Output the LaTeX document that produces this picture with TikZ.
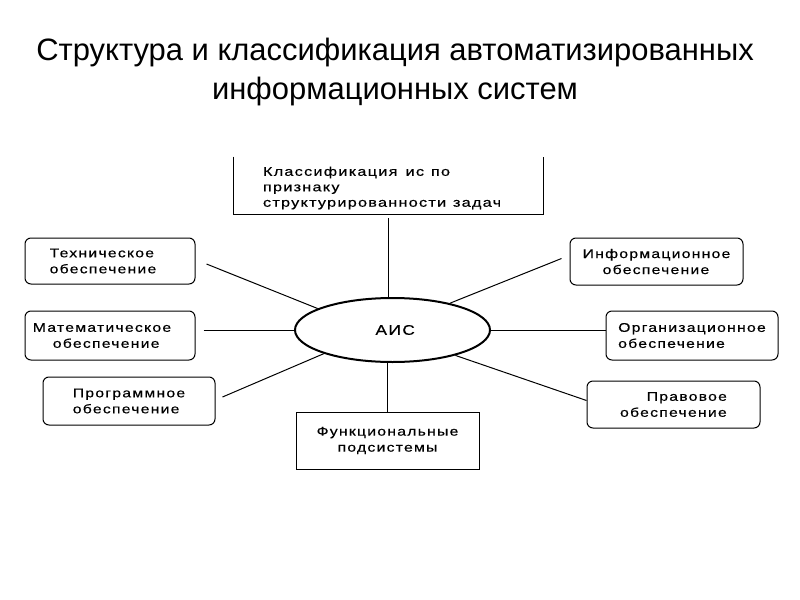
\documentclass[tikz,border=0pt]{standalone}
\usepackage{fontspec}
\setmainfont{Liberation Sans}
\newfontfamily\boxfont[FakeStretch=1.24,LetterSpace=10,FakeBold=0.4,WordSpace=1.5]{Liberation Sans}
\newfontfamily\clsfont[FakeStretch=1.28,LetterSpace=10,FakeBold=0.4,WordSpace=1.6]{Liberation Sans}
\usetikzlibrary{shapes.geometric,calc}
\begin{document}
\begin{tikzpicture}[x=0.75pt,y=-0.75pt,
  lbl/.style={font=\boxfont\fontsize{9.5}{12}\selectfont, align=left, inner sep=0pt},
  rbox/.style={draw, rounded corners=4.5pt, line width=0.75pt, lbl},
  sbox/.style={draw, line width=0.75pt, lbl},
  conn/.style={line width=0.75pt}]
\useasboundingbox (0,0) rectangle (800,600);
\fill[white] (0,0) rectangle (800,600);

\node[font=\fontsize{23.2}{28.5}\selectfont, align=center, inner sep=0pt] (title) at (395,72)
  {Структура и классификация автоматизированных\\информационных систем};

\node[lbl, font=\clsfont\fontsize{9.5}{11.6}\selectfont, inner xsep=21.75pt, text width=188.25pt,
  minimum height=42.75pt] (cls) at (388.5,188)
  {Классификация\kern3pt\ ис\kern2pt\ по\\признаку\\структурированности\kern2pt\ задач};
\draw[line width=0.75pt] ($(cls.north west)+(0,-2.5)$) -- ($(cls.south west)+(0,-2.5)$)
  -- ($(cls.south east)+(0,-2.5)$) -- ($(cls.north east)+(0,-2.5)$);

\node[ellipse, draw, line width=1.5pt, minimum width=146.25pt, minimum height=48pt, inner sep=0pt,
  font=\boxfont\fontsize{10.5}{12}\selectfont] (ais) at (392.5,330) {\hspace*{4pt}АИС};

\node[rbox, minimum width=127.5pt, minimum height=34.5pt] (tech) at (110,261) {Техническое\\обеспечение\hspace*{10.5pt}};
\node[rbox, minimum width=127.5pt, minimum height=36.75pt] (math) at (110,335.5) {Математическое\hspace*{12pt}\\\hspace*{15pt}обеспечение};
\node[rbox, minimum width=129pt, minimum height=36pt] (prog) at (129,401) {Программное\\обеспечение};
\node[rbox, minimum width=129.75pt, minimum height=35.25pt] (info) at (656.5,261.5) {Информационное\\\hspace*{15pt}обеспечение};
\node[rbox, minimum width=129pt, minimum height=36.75pt] (org) at (692,335.5) {Организационное\\обеспечение};
\node[rbox, minimum width=129.75pt, minimum height=35.25pt] (prav) at (673.5,404.5) {\hspace*{20pt}Правовое\\обеспечение};
\node[sbox, align=center, minimum width=137.25pt, minimum height=42.75pt] (func) at (387.5,440.5) {Функциональные\\подсистемы};

\draw[conn] ($(cls.south)+(0,1.5)$) -- (cls.south |- ais.north);
\draw[conn] ($(tech.east)+(11,3)$) -- (ais.164);
\draw[conn] ($(math.east |- ais.west)+(8,0)$) -- (ais.west);
\draw[conn] ($(prog.east)+(7,-4)$) -- (ais.199.5);
\draw[conn] ($(info.west)+(-8,-3)$) -- (ais.25);
\draw[conn] (ais.east) -- (org.west |- ais.east);
\draw[conn] (ais.-22) -- ($(prav.west)+(0,-4)$);
\draw[conn] (func.north |- ais.south) -- (func.north);
\end{tikzpicture}
\end{document}
